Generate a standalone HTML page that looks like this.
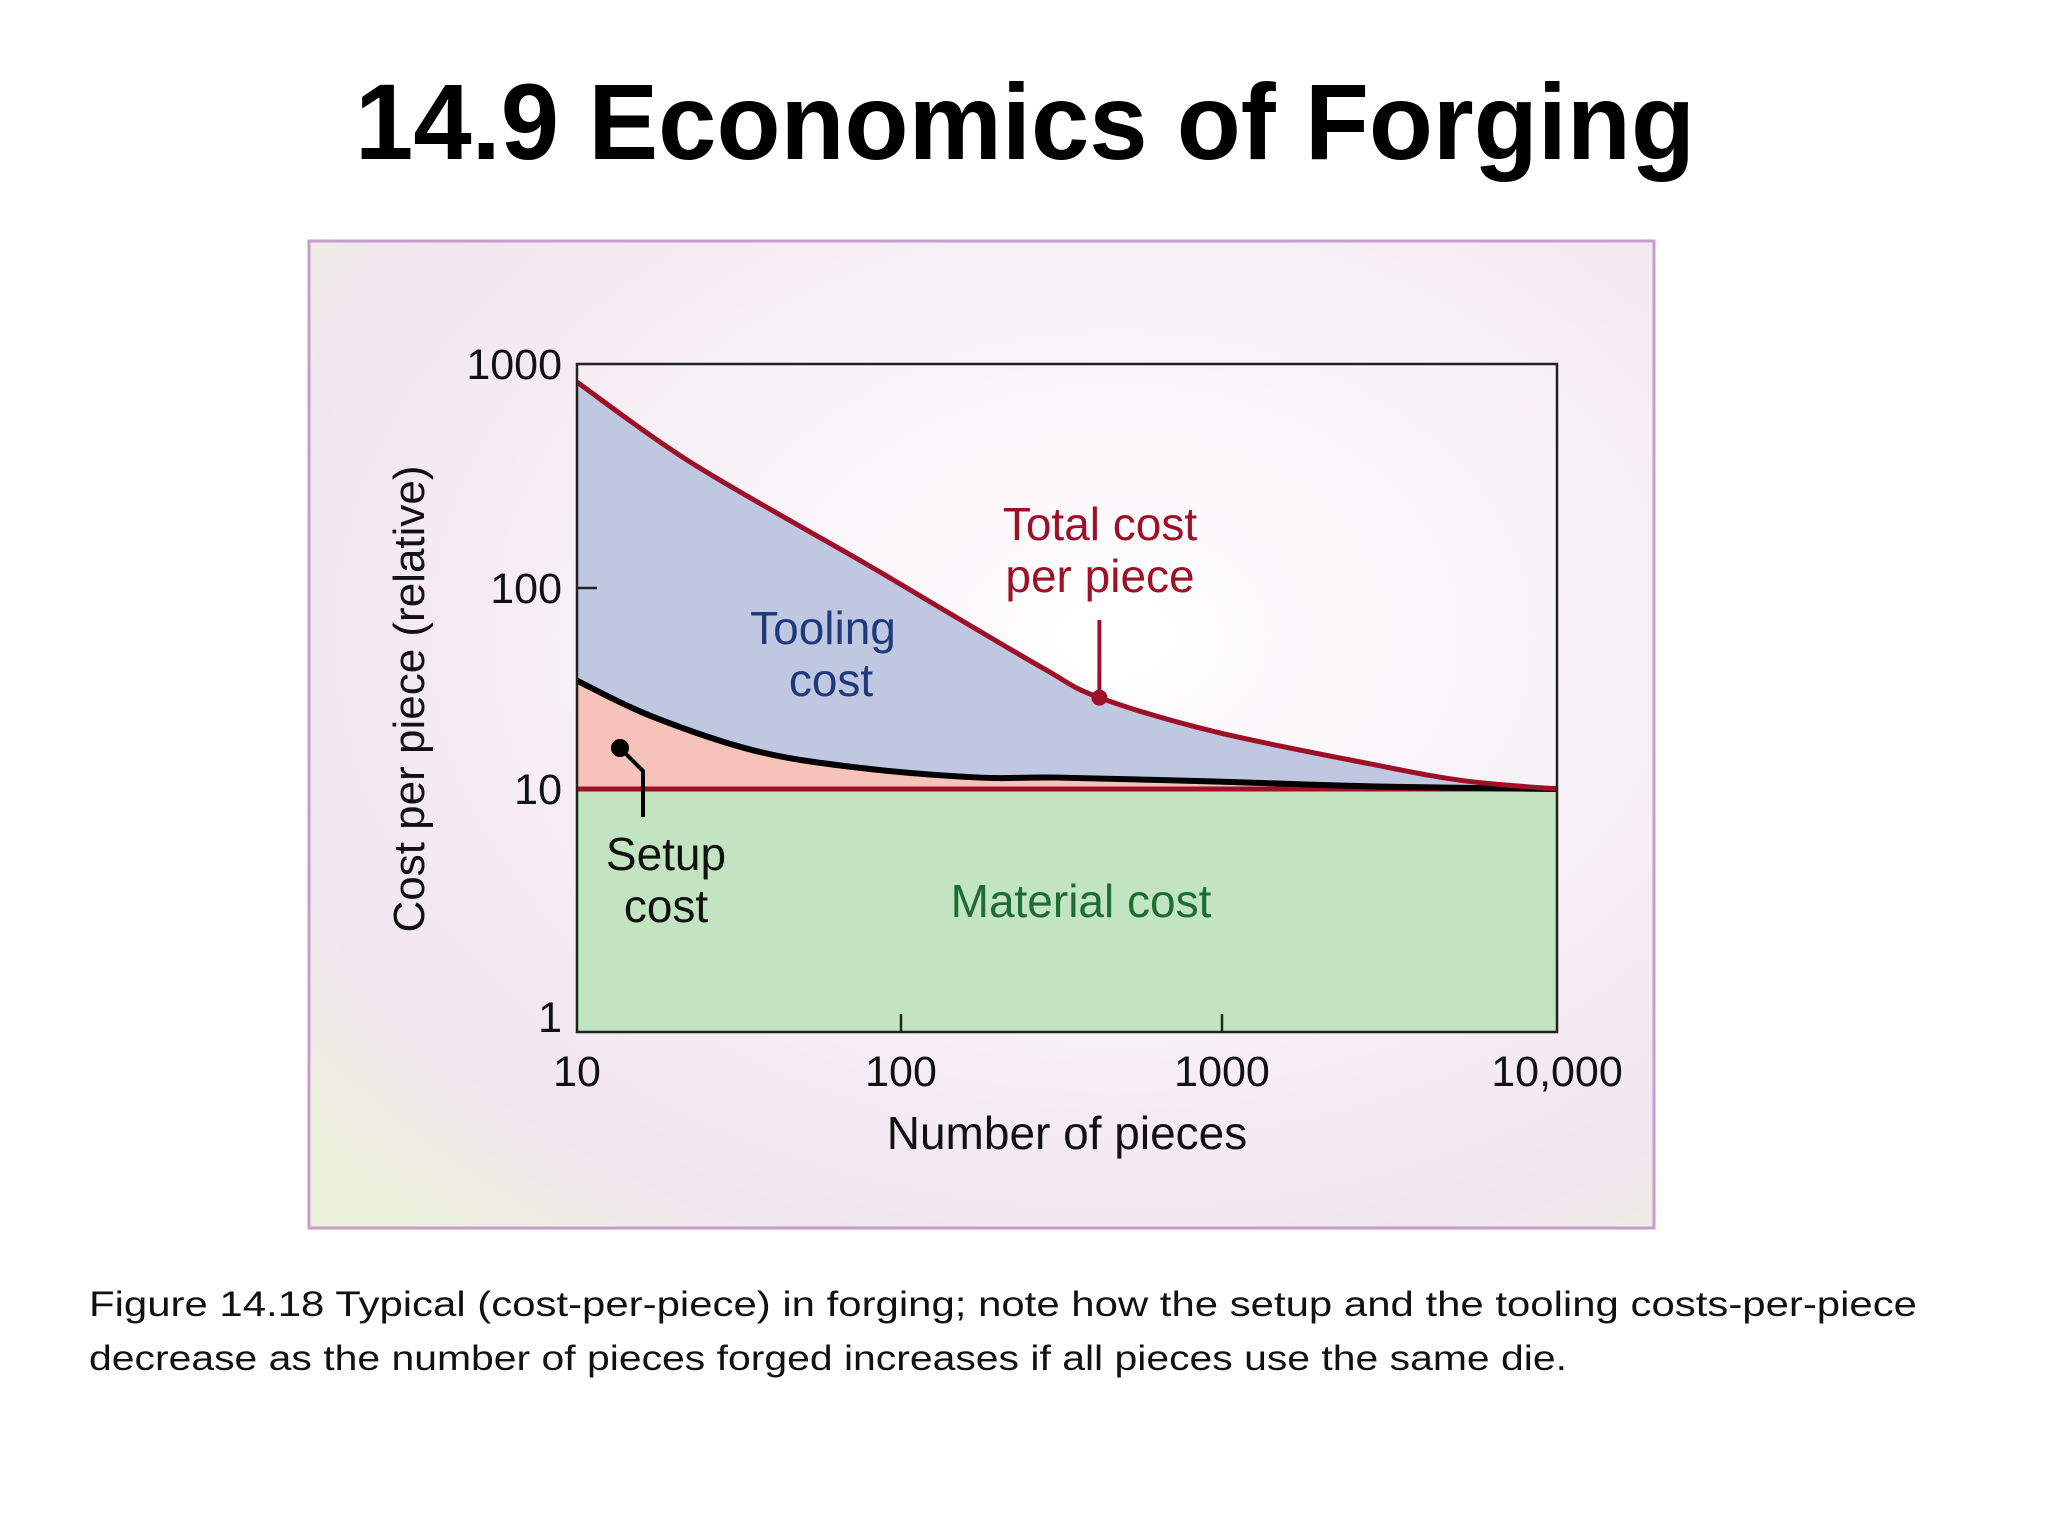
<!DOCTYPE html>
<html><head><meta charset="utf-8"><style>
html,body{margin:0;padding:0;background:#fff;}
svg{display:block;}
</style></head><body>
<svg id="chart" width="2048" height="1536" viewBox="0 0 2048 1536" xmlns="http://www.w3.org/2000/svg">
<defs>
<radialGradient id="bg" cx="0.6" cy="0.4" r="0.8">
<stop offset="0" stop-color="#ffffff"/>
<stop offset="0.5" stop-color="#f7f0f5"/>
<stop offset="0.8" stop-color="#f0e6ef"/>
<stop offset="1" stop-color="#eef2dc"/>
</radialGradient>
</defs>
<text x="1025" y="159" text-anchor="middle" font-family="Liberation Sans, sans-serif" font-weight="bold" font-size="108" textLength="1340" lengthAdjust="spacingAndGlyphs" fill="#000">14.9 Economics of Forging</text>
<rect x="309" y="241" width="1345" height="987" fill="url(#bg)" stroke="#c89ccc" stroke-width="3"/>
<g id="plot"></g>
<text x="89" y="1316" font-family="Liberation Sans, sans-serif" font-size="35" textLength="1828" lengthAdjust="spacingAndGlyphs" fill="#111">Figure 14.18  Typical (cost-per-piece) in forging; note how the setup and the tooling costs-per-piece</text>
<text x="89" y="1370" font-family="Liberation Sans, sans-serif" font-size="35" textLength="1478" lengthAdjust="spacingAndGlyphs" fill="#111">decrease as the number of pieces forged increases if all pieces use the same die.</text>
</svg>
<script>
const xTicks = [10, 100, 1000, 10000];
const xTickLabels = ["10", "100", "1000", "10,000"];
const yTicks = [1, 10, 100, 1000];
const yTickLabels = ["1", "10", "100", "1000"];
const totalX = [10, 22.7, 76, 132, 280, 415, 946, 2790, 5250, 10000];
const totalY = [830, 360, 131, 80, 39.5, 28.5, 19.3, 13.3, 11, 10];
const setupX = [10, 17, 36, 76, 175, 308, 946, 2790, 10000];
const setupY = [34.6, 23, 15.4, 12.7, 11.4, 11.4, 10.9, 10.3, 10];
const materialCost = 10;
const pointerPiece = 415;

const NS = "http://www.w3.org/2000/svg";
const plot = document.getElementById('plot');
const xPix = [577, 901, 1222, 1557];
const yPix = [1032, 789, 588, 364];
function pw(v, ticks, pix) {
  const l = Math.log10(v);
  const lt = ticks.map(Math.log10);
  let i = 0;
  while (i < lt.length - 2 && l > lt[i + 1]) i++;
  return pix[i] + (l - lt[i]) / (lt[i + 1] - lt[i]) * (pix[i + 1] - pix[i]);
}
const X = v => pw(v, xTicks, xPix);
const Y = v => pw(v, yTicks, yPix);
function el(tag, attrs, parent) {
  const e = document.createElementNS(NS, tag);
  for (const k in attrs) e.setAttribute(k, attrs[k]);
  (parent || plot).appendChild(e);
  return e;
}
function smooth(pts) {
  let d = `M${pts[0][0]},${pts[0][1]}`;
  for (let i = 0; i < pts.length - 1; i++) {
    const p0 = pts[Math.max(0, i - 1)], p1 = pts[i], p2 = pts[i + 1], p3 = pts[Math.min(pts.length - 1, i + 2)];
    const c1 = [p1[0] + (p2[0] - p0[0]) / 6, p1[1] + (p2[1] - p0[1]) / 6];
    const c2 = [p2[0] - (p3[0] - p1[0]) / 6, p2[1] - (p3[1] - p1[1]) / 6];
    d += ` C${c1[0]},${c1[1]} ${c2[0]},${c2[1]} ${p2[0]},${p2[1]}`;
  }
  return d;
}
const tPts = totalX.map((x, i) => [X(x), Y(totalY[i])]);
const sPts = setupX.map((x, i) => [X(x), Y(setupY[i])]);
const x0 = X(xTicks[0]), x1 = X(xTicks[3]), yTop = Y(yTicks[3]), yBot = Y(yTicks[0]), yMat = Y(materialCost);

let e;
e = el('rect', {x: x0, y: yMat, width: x1 - x0, height: yBot - yMat, fill: '#c2e4c0'});


e = el('path', {d: smooth(tPts) + ` L${x1},${yMat} L${x0},${yMat} Z`, fill: '#bfc8e0'});


e = el('path', {d: smooth(sPts) + ` L${x1},${yMat} L${x0},${yMat} Z`, fill: '#f7c2ba'});


e = el('line', {x1: x0, y1: yMat, x2: x1, y2: yMat, stroke: '#9e1027', 'stroke-width': 5});


e = el('path', {d: smooth(sPts), fill: 'none', stroke: '#000', 'stroke-width': 6});


e = el('path', {d: smooth(tPts), fill: 'none', stroke: '#9e1027', 'stroke-width': 5});


e = el('rect', {x: x0, y: yTop, width: x1 - x0, height: yBot - yTop, fill: 'none', stroke: '#222', 'stroke-width': 2.5});


e = el('line', {x1: x0, y1: Y(100), x2: x0 + 20, y2: Y(100), stroke: '#222', 'stroke-width': 2.5});


[100, 1000].forEach(v => {
  const t = el('line', {x1: X(v), y1: yBot, x2: X(v), y2: yBot - 18, stroke: '#222', 'stroke-width': 2.5});
  
  
});
const font = 'Liberation Sans, sans-serif';
yTicks.forEach((v, i) => {
  const yy = v === 1 ? Y(v) - 15 : Y(v);
  const t = el('text', {x: 562, y: yy + 15, 'text-anchor': 'end', 'font-family': font, 'font-size': 43, fill: '#111'});
  t.textContent = yTickLabels[i];
  
  
});
xTicks.forEach((v, i) => {
  const t = el('text', {x: X(v), y: 1086, 'text-anchor': 'middle', 'font-family': font, 'font-size': 43, fill: '#111'});
  t.textContent = xTickLabels[i];
  
  
});
e = el('text', {x: 1067, y: 1149, 'text-anchor': 'middle', 'font-family': font, 'font-size': 46, fill: '#111'});
e.textContent = 'Number of pieces';


e = el('text', {x: 0, y: 0, 'text-anchor': 'middle', 'font-family': font, 'font-size': 44, fill: '#111', transform: 'translate(424,699) rotate(-90)'});
e.textContent = 'Cost per piece (relative)';


function label(txt, x, y, color, name) {
  const t = el('text', {x: x, y: y, 'text-anchor': 'middle', 'font-family': font, 'font-size': 46, fill: color});
  t.textContent = txt;
  
  
}
label('Total cost', 1100, 540, '#9e1027', 'total-cost-label');
label('per piece', 1100, 592, '#9e1027', 'total-cost-label-2');
label('Tooling', 823, 644, '#1f3a7a', 'tooling-cost-label');
label('cost', 831, 696, '#1f3a7a', 'tooling-cost-label-2');
label('Setup', 666, 870, '#111', 'setup-cost-label');
label('cost', 666, 922, '#111', 'setup-cost-label-2');
label('Material cost', 1081, 917, '#1d6b35', 'material-cost-label');
const px = X(pointerPiece);
const py = Y(totalY[totalX.indexOf(pointerPiece)]);
e = el('line', {x1: px, y1: 620, x2: px, y2: py, stroke: '#9e1027', 'stroke-width': 4});


e = el('circle', {cx: px, cy: py, r: 8, fill: '#9e1027'});


e = el('polyline', {points: '620,748 643,771 643,817', fill: 'none', stroke: '#000', 'stroke-width': 4});


e = el('circle', {cx: 620, cy: 748, r: 9, fill: '#000'});


</script>
</body></html>
